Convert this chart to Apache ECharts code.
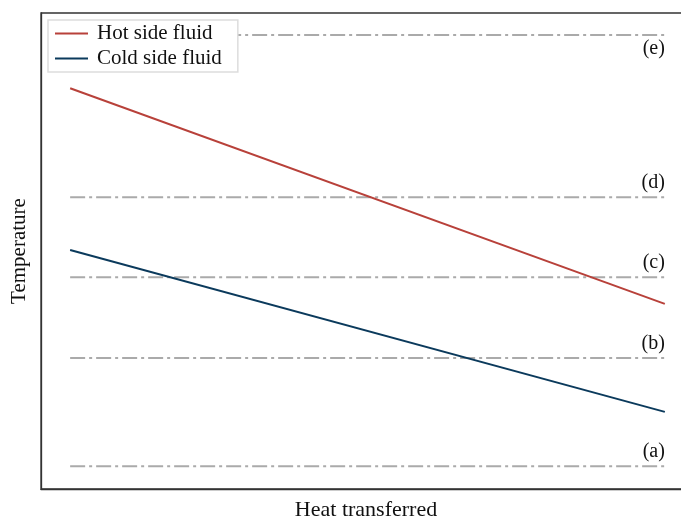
<!DOCTYPE html>
<html><head><meta charset="utf-8">
<script src="https://cdn.jsdelivr.net/npm/echarts@6/dist/echarts.min.js"></script>
<style>html,body{margin:0;padding:0;background:#fff}#c{width:681px;height:518px}</style>
</head><body><div id="c"></div>
<script>
const seriesNames = ['Hot side fluid', 'Cold side fluid'];
const xPoints = [0, 1];
const hotValues = [84.2, 38.9];
const coldValues = [50.2, 16.2];
const levelLabels = ['(a)', '(b)', '(c)', '(d)', '(e)'];
const levelValues = [4.8, 27.5, 44.5, 61.3, 95.4];

const FONT = '"Liberation Serif", "DejaVu Serif", serif';
const FS = 21;
const chart = echarts.init(document.getElementById('c'), null, {renderer: 'canvas'});

const levelSeries = levelLabels.map((lab, i) => {
  const below = i === levelLabels.length - 1;
  return {
    type: 'line', name: lab, silent: true, symbol: 'none', z: 1,
    lineStyle: {color: '#aaaaaa', width: 2, type: [15, 4, 3, 4]},
    endLabel: {
      show: true, formatter: lab, align: 'right', verticalAlign: below ? 'top' : 'bottom',
      offset: below ? [0, 4] : [0, -4], distance: 0,
      color: '#111', fontFamily: FONT, fontSize: FS - 1
    },
    data: xPoints.map(x => [x, levelValues[i]])
  };
});

const lineIcon = 'path://M0,0H33V2H0Z';

chart.setOption({
  animation: false,
  grid: {left: 41, top: 13, width: 650, height: 476, show: true, borderColor: '#333', borderWidth: 1.3,
         backgroundColor: 'transparent', outerBoundsMode: 'none', containLabel: false},
  legend: {
    data: seriesNames.map(n => ({name: n, icon: lineIcon})),
    orient: 'vertical', left: 48, top: 20,
    backgroundColor: '#fff', borderColor: '#dddddd', borderWidth: 1.5, borderRadius: 0,
    padding: [3, 16, 3, 7], itemWidth: 33, itemHeight: 2, itemGap: 4, z: 10,
    textStyle: {fontFamily: FONT, fontSize: FS, color: '#111', padding: [0, 0, 0, 4]}
  },
  xAxis: {
    type: 'value', min: -0.049, max: 1.044,
    name: 'Heat transferred', nameLocation: 'middle', nameGap: 10,
    nameTextStyle: {fontFamily: FONT, fontSize: 22, color: '#111'},
    axisLine: {show: true, onZero: false, lineStyle: {color: '#333', width: 1.3}},
    axisTick: {show: false}, axisLabel: {show: false}, splitLine: {show: false}
  },
  yAxis: {
    type: 'value', min: 0, max: 100,
    name: 'Temperature', nameLocation: 'middle', nameGap: 11,
    nameTextStyle: {fontFamily: FONT, fontSize: FS, color: '#111'},
    axisLine: {show: true, onZero: false, lineStyle: {color: '#333', width: 1.3}},
    axisTick: {show: false}, axisLabel: {show: false}, splitLine: {show: false}
  },
  series: [
    ...levelSeries,
    {type: 'line', name: seriesNames[0], symbol: 'none', z: 3,
     itemStyle: {color: '#b8413a'}, lineStyle: {color: '#b8413a', width: 2},
     data: xPoints.map((x, i) => [x, hotValues[i]])},
    {type: 'line', name: seriesNames[1], symbol: 'none', z: 3,
     itemStyle: {color: '#0b3a5c'}, lineStyle: {color: '#0b3a5c', width: 2},
     data: xPoints.map((x, i) => [x, coldValues[i]])}
  ]
});
</script></body></html>
